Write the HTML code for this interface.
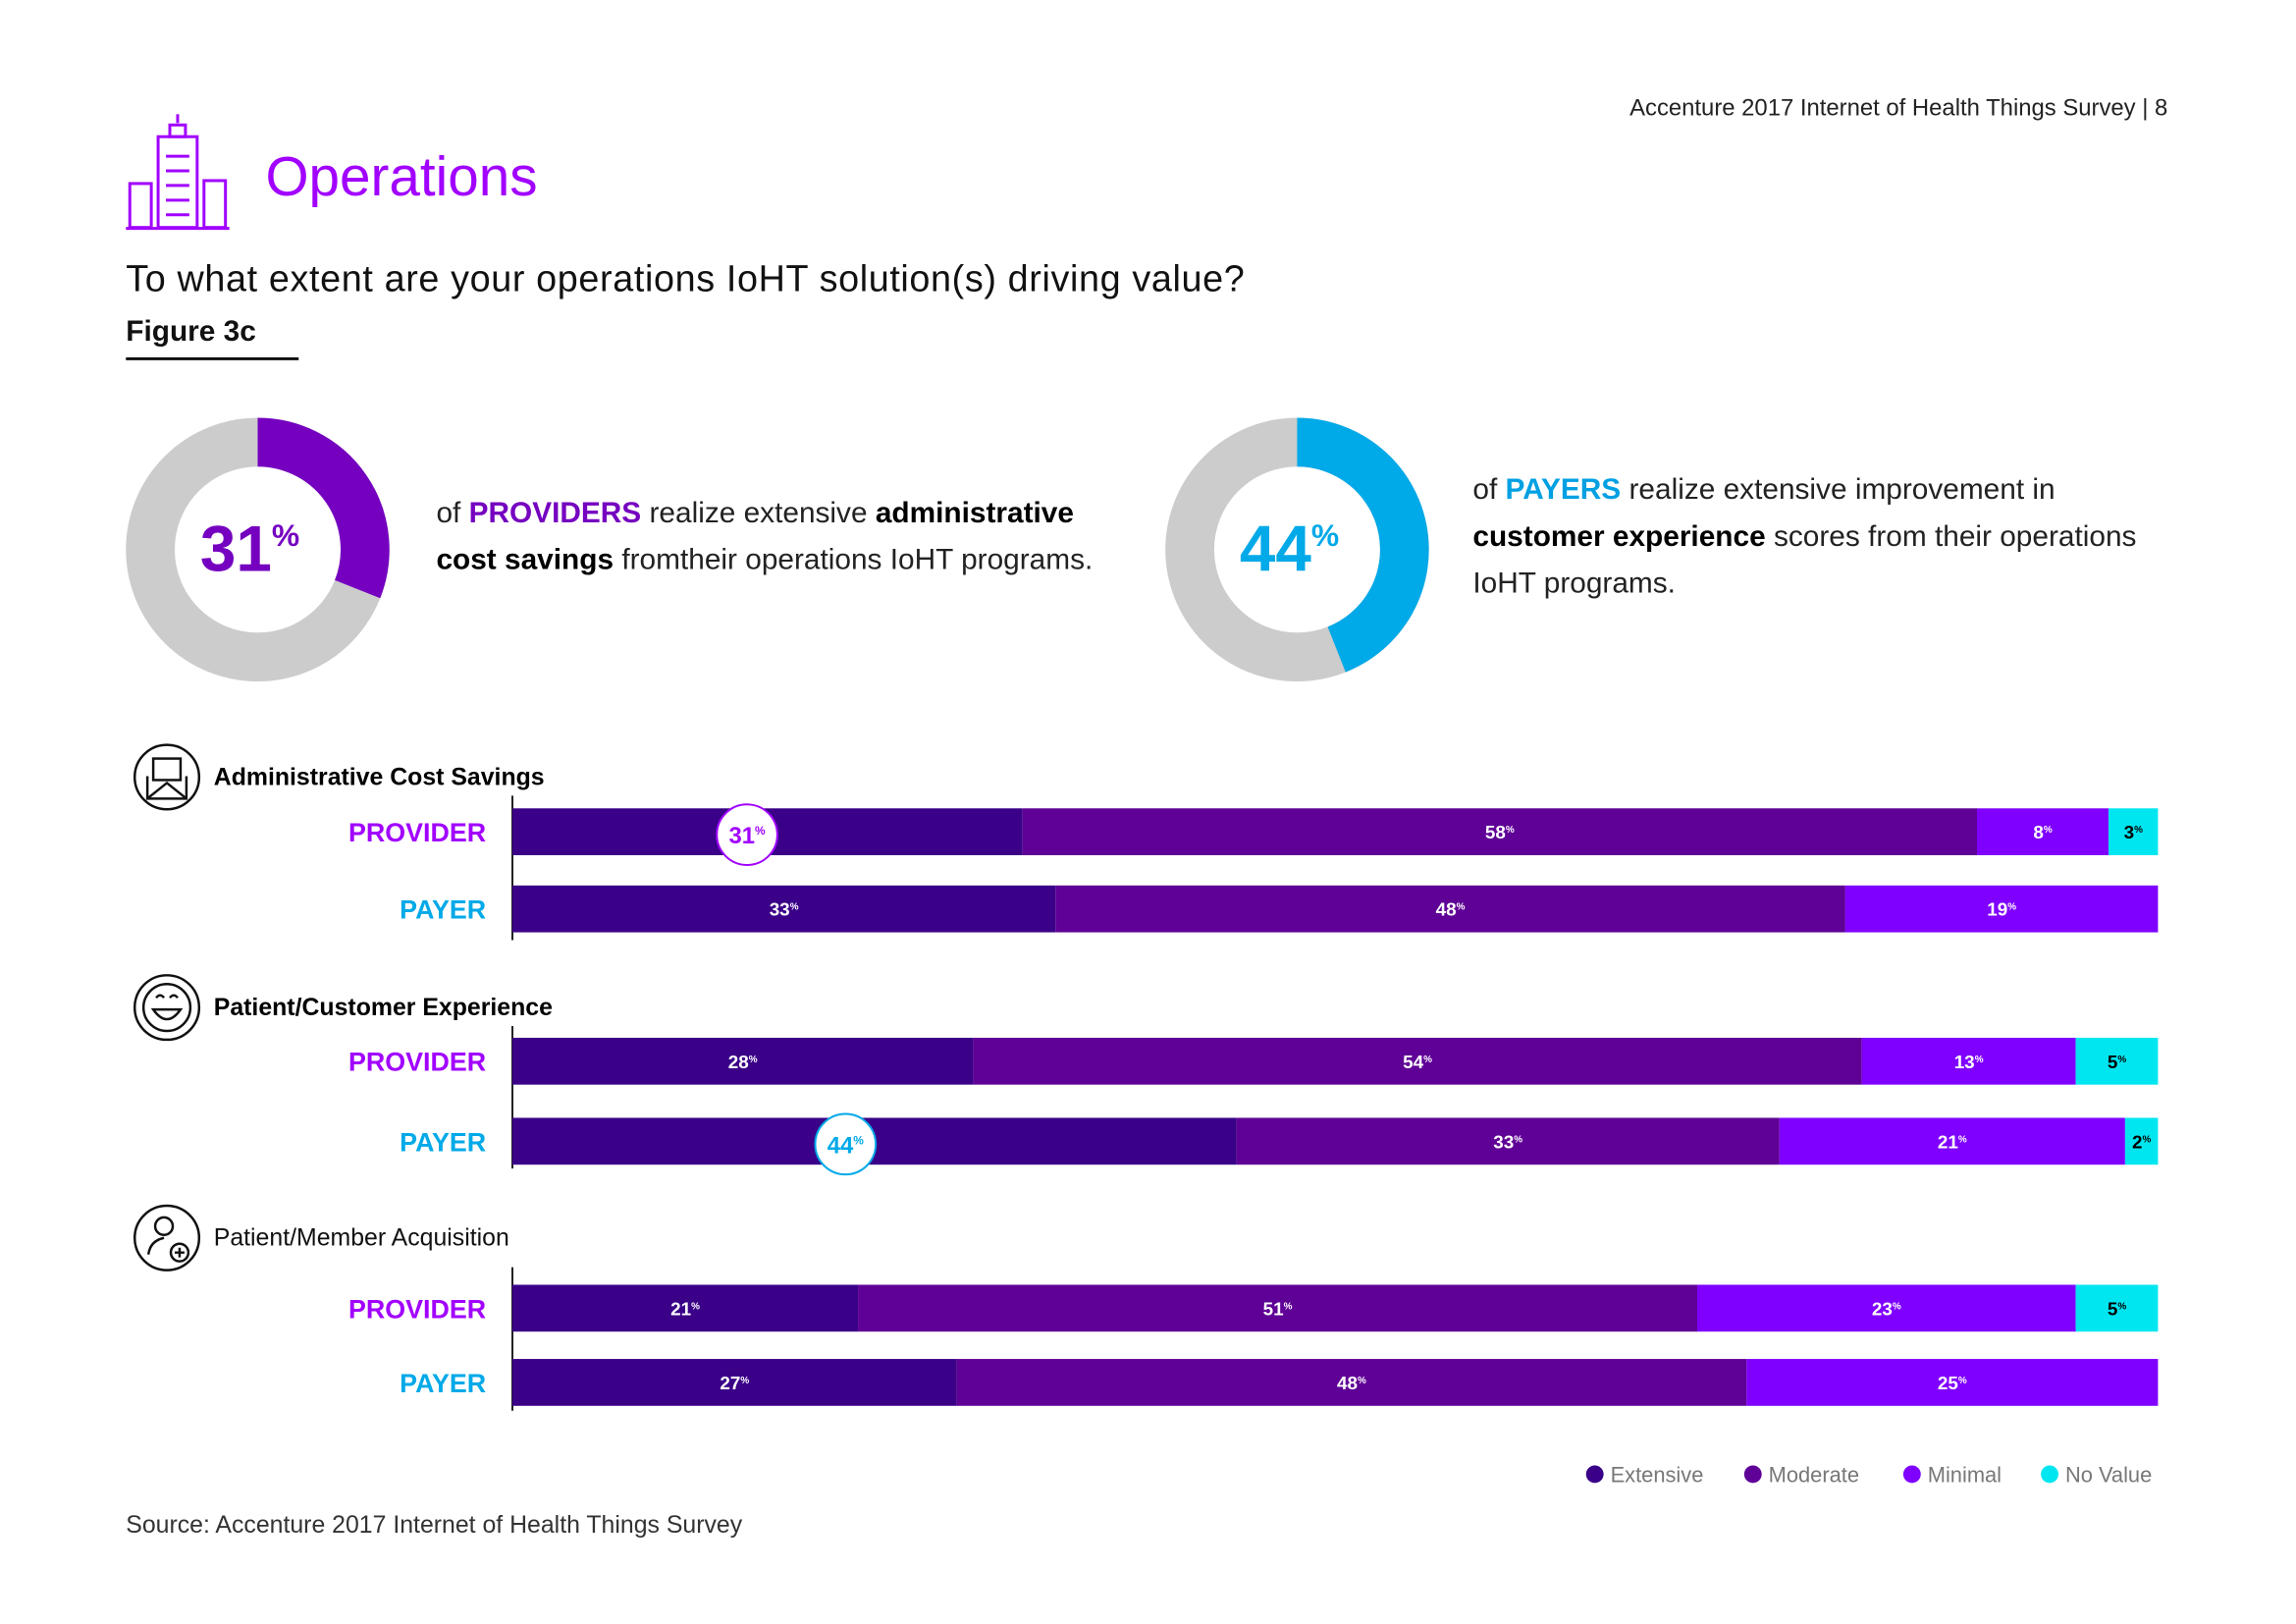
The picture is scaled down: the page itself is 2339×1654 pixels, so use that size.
<!DOCTYPE html>
<html><head><meta charset="utf-8"><style>
body{margin:0;background:#fff;}
svg{display:block;font-family:"Liberation Sans",sans-serif;}
</style></head><body>
<svg id="chart" width="2339" height="1654" viewBox="0 0 2339 1654">
<g transform="scale(0.9943)">
<text x="2221" y="118" text-anchor="end" font-size="24" fill="#222">Accenture 2017 Internet of Health Things Survey | 8</text>
<g fill="none" stroke="#a100ff" stroke-width="3">
<rect x="133" y="188" width="22" height="45"/><rect x="162" y="140" width="40" height="93"/><rect x="209" y="185" width="22" height="48"/>
<rect x="174" y="128" width="16" height="12"/><line x1="182" y1="126" x2="182" y2="117"/>
<line x1="170" y1="160" x2="194" y2="160"/><line x1="170" y1="175" x2="194" y2="175"/><line x1="170" y1="190" x2="194" y2="190"/><line x1="170" y1="205" x2="194" y2="205"/><line x1="170" y1="220" x2="194" y2="220"/>
<line x1="129" y1="234" x2="235" y2="234"/></g>
<text x="272" y="200" font-size="57" fill="#a100ff">Operations</text>
<text x="129" y="298" font-size="38" fill="#111" textLength="1146">To what extent are your operations IoHT solution(s) driving value?</text>
<text x="129" y="349" font-size="30" font-weight="bold" fill="#111">Figure 3c</text>
<rect x="129" y="366" width="177" height="3" fill="#111"/>
<g id="donuts"></g>
<text font-size="30" fill="#222"><tspan x="447" y="535">of <tspan font-weight="bold" fill="#7500c0">PROVIDERS</tspan> realize extensive <tspan font-weight="bold" fill="#000">administrative</tspan></tspan><tspan x="447" y="583"><tspan font-weight="bold" fill="#000">cost savings</tspan> fromtheir operations IoHT programs.</tspan></text>
<text font-size="30" fill="#222"><tspan x="1509" y="511">of <tspan font-weight="bold" fill="#00a0e3">PAYERS</tspan> realize extensive improvement in</tspan><tspan x="1509" y="559"><tspan font-weight="bold" fill="#000">customer experience</tspan> scores from their operations</tspan><tspan x="1509" y="607">IoHT programs.</tspan></text>
<g id="bars"></g>
<g fill="none" stroke="#111" stroke-width="2.5">
<circle cx="171" cy="796" r="33"/><rect x="157" y="777" width="28" height="22"/><path d="M151 795 L151 818 L191 818 L191 795 M151 818 L171 802 L191 818"/>
<circle cx="171" cy="1032" r="33"/><circle cx="171" cy="1032" r="24"/><path d="M157 1034 Q171 1054 185 1034 Z"/><path d="M160 1022 q4 -5 8 0 M174 1022 q4 -5 8 0"/>
<circle cx="171" cy="1268" r="33"/><circle cx="168" cy="1256" r="9"/><path d="M152 1285 q2 -14 16 -17"/><circle cx="184" cy="1283" r="9"/><path d="M184 1278 v10 M179 1283 h10"/>
</g>
<text x="219" y="804" font-size="25" font-weight="bold" fill="#000">Administrative Cost Savings</text>
<text x="219" y="1040" font-size="25" font-weight="bold" fill="#000">Patient/Customer Experience</text>
<text x="219" y="1276" font-size="25" fill="#111">Patient/Member Acquisition</text>
<g id="legend"></g>
<text x="129" y="1570" font-size="25" fill="#333">Source: Accenture 2017 Internet of Health Things Survey</text>
</g>
</svg>
<script>
const categories = ["Extensive","Moderate","Minimal","No Value"];
const groupLabels = ["PROVIDER","PAYER","PROVIDER","PAYER","PROVIDER","PAYER"];
const extensive = [31,33,28,44,21,27];
const moderate = [58,48,54,33,51,48];
const minimal = [8,19,13,21,23,25];
const noValue = [3,0,5,2,5,0];
const donutValues = [31,44];
const NS="http://www.w3.org/2000/svg";
function mk(t,a,p){const e=document.createElementNS(NS,t);for(const k in a)e.setAttribute(k,a[k]);p.appendChild(e);return e;}
const colors=["#3a0088","#5f0096","#7f00ff","#00e6f0"];
const x0=525,xw=1686;
function xs(v){return x0+v/100*xw;}
const rowY=[828,907,1063,1145,1316,1392],barH=48;
const axes=[[815,963],[1051,1197],[1298,1445]];
const bars=document.getElementById('bars');
axes.forEach((a,i)=>{const l=mk('line',{x1:x0,x2:x0,y1:a[0],y2:a[1],stroke:'#222','stroke-width':2},bars);

});
const series=[extensive,moderate,minimal,noValue];
const callouts={0:["#a100ff"],3:["#00a9e8"]};
rowY.forEach((y,r)=>{
 const isProv=groupLabels[r]==="PROVIDER";
 const lab=mk('text',{x:498,y:y+barH/2+10,'text-anchor':'end','font-size':27,'font-weight':'bold',fill:isProv?'#a100ff':'#00a9e8'},bars);
 lab.textContent=groupLabels[r];
 
 
 let cum=0;
 series.forEach((s,k)=>{const v=s[r];if(!v)return;
  const rc=mk('rect',{x:xs(cum),y:y,width:xs(cum+v)-xs(cum),height:barH,fill:colors[k]},bars);
  
  
  if(!(k===0&&callouts[r])){
   const t=mk('text',{x:(xs(cum)+xs(cum+v))/2,y:y+barH/2+7,'text-anchor':'middle','font-size':19,'font-weight':'bold',fill:k===3?'#000':'#fff'},bars);
   t.innerHTML=v+'<tspan font-size="10" dy="-6">%</tspan>';
   
   
  }
  cum+=v;});
 if(callouts[r]){const v=extensive[r];const cx=x0+v*0.46/100*xw,cy=y+barH/2+3,c=callouts[r][0];
  const ci=mk('circle',{cx:cx,cy:cy,r:31,fill:'#fff',stroke:c,'stroke-width':2},bars);
  
  
  const t=mk('text',{x:cx,y:cy+9,'text-anchor':'middle','font-size':24,'font-weight':'bold',fill:c},bars);
  t.innerHTML=v+'<tspan font-size="12" dy="-9">%</tspan>';
  
  }
});
const dg=document.getElementById('donuts');
const dcol=["#7500c0","#00a9e8"],dcx=[264,1329],dcy=563;
donutValues.forEach((v,i)=>{
 const R=110,W=50;
 const bg=mk('circle',{cx:dcx[i],cy:dcy,r:R,fill:'none',stroke:'#cccccc','stroke-width':W},dg);
 
 
 const a=v/100*2*Math.PI;
 const x1=dcx[i],y1=dcy-R,x2=dcx[i]+R*Math.sin(a),y2=dcy-R*Math.cos(a);
 const p=mk('path',{d:`M${x1} ${y1} A${R} ${R} 0 ${v>50?1:0} 1 ${x2} ${y2}`,fill:'none',stroke:dcol[i],'stroke-width':W},dg);
 
 
 const t=mk('text',{x:dcx[i]-8,y:dcy+22,'text-anchor':'middle','font-size':66,'font-weight':'bold',fill:dcol[i]},dg);
 t.innerHTML=v+'<tspan font-size="32" dy="-26">%</tspan>';
 
 
});
const lg=document.getElementById('legend');
const lx=[1634,1796,1959,2100];
categories.forEach((c,i)=>{
 const d=mk('circle',{cx:lx[i],cy:1510,r:9,fill:colors[i]},lg);
 
 
 const t=mk('text',{x:lx[i]+16,y:1518,'font-size':22,fill:'#777'},lg);
 t.textContent=c;
 
 
});
</script>
</body></html>
